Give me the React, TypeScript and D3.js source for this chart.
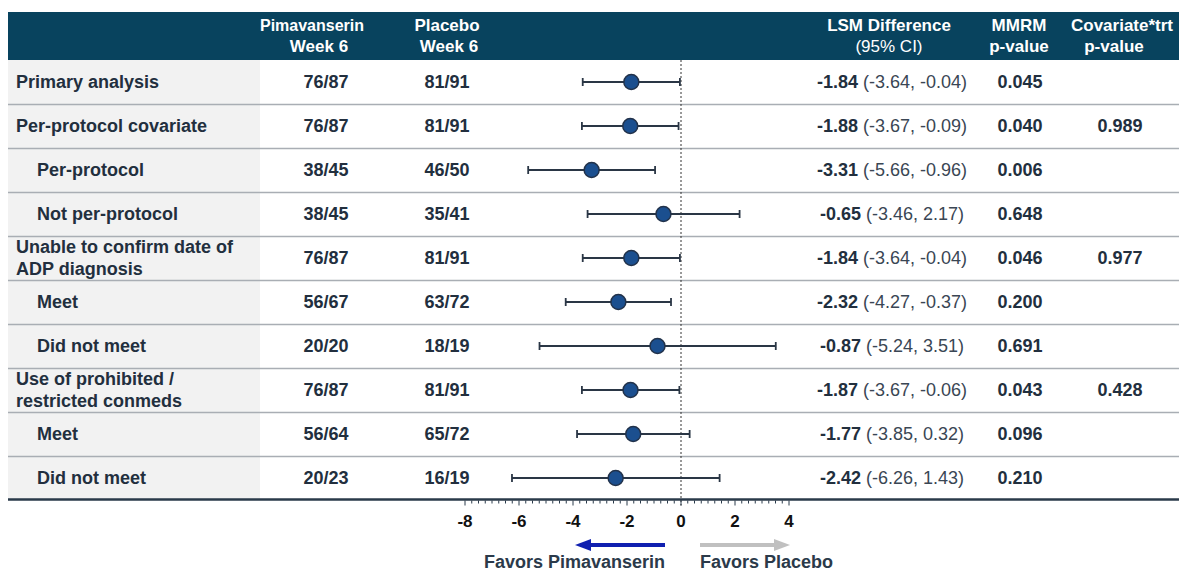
import React from "react";
import * as d3 from "d3";

const labels = [
  ["Primary analysis"],
  ["Per-protocol covariate"],
  ["Per-protocol"],
  ["Not per-protocol"],
  ["Unable to confirm date of", "ADP diagnosis"],
  ["Meet"],
  ["Did not meet"],
  ["Use of prohibited /", "restricted conmeds"],
  ["Meet"],
  ["Did not meet"],
];
const indented = [false, false, true, true, false, true, true, false, true, true];
const pimaN = ["76/87", "76/87", "38/45", "38/45", "76/87", "56/67", "20/20", "76/87", "56/64", "20/23"];
const placeboN = ["81/91", "81/91", "46/50", "35/41", "81/91", "63/72", "18/19", "81/91", "65/72", "16/19"];
const lsm = [-1.84, -1.88, -3.31, -0.65, -1.84, -2.32, -0.87, -1.87, -1.77, -2.42];
const ciLow = [-3.64, -3.67, -5.66, -3.46, -3.64, -4.27, -5.24, -3.67, -3.85, -6.26];
const ciHigh = [-0.04, -0.09, -0.96, 2.17, -0.04, -0.37, 3.51, -0.06, 0.32, 1.43];
const mmrmP = ["0.045", "0.040", "0.006", "0.648", "0.046", "0.200", "0.691", "0.043", "0.096", "0.210"];
const covP = ["", "0.989", "", "", "0.977", "", "", "0.428", "", ""];
const majorTicks = [-8, -6, -4, -2, 0, 2, 4];

const FONT = "'Liberation Sans', Arial, sans-serif";
const DARK = "#222f3e";

export default function App() {
  const left = 8;
  const right = 1179;
  const headerTop = 12;
  const headerBottom = 60;
  const rowH = 44;
  const grayRight = 260;
  const axisY = 499.5;
  const x = d3.scaleLinear().domain([-8, 4]).range([465, 789]);
  const y = (i: number) => headerBottom + rowH * i + rowH / 2;
  const minorTicks = d3.range(-8, 4.001, 0.25);
  const fmt = (v: number) => v.toFixed(2);
  const FS = 18;

  return (
    <svg
      width={1179}
      height={571}
      style={{ position: "absolute", left: 0, top: 0, display: "block" }}
      fontFamily={FONT}
    >
      <rect x={0} y={0} width={1179} height={571} fill="#fff" />
      {/* header */}
      <rect x={left} y={headerTop} width={right - left} height={headerBottom - headerTop} fill="#08435e" />
      <g fill="#fff" fontWeight="bold" fontSize={17} textAnchor="middle">
        <text x={312} y={31} fontSize={16}>Pimavanserin</text>
        <text x={319} y={52}>Week 6</text>
        <text x={447} y={31}>Placebo</text>
        <text x={449} y={52}>Week 6</text>
        <text x={889} y={31}>LSM Difference</text>
        <text x={889} y={52} fontWeight="normal">(95% CI)</text>
        <text x={1019} y={31}>MMRM</text>
        <text x={1019} y={52}>p-value</text>
        <text x={1122} y={31}>Covariate*trt</text>
        <text x={1114} y={52}>p-value</text>
      </g>
      {/* gray label column */}
      <rect x={left} y={headerBottom} width={grayRight - left} height={axisY - headerBottom} fill="#f2f2f2" />
      {/* row separators */}
      {labels.slice(1).map((_, i) => (
        <line
          key={"sep" + i}
          x1={left}
          x2={right}
          y1={headerBottom + rowH * (i + 1) + 0.5}
          y2={headerBottom + rowH * (i + 1) + 0.5}
          stroke="#a9aeb4"
          strokeWidth={1.5}
        />
      ))}
      {/* zero line */}
      <line x1={x(0)} x2={x(0)} y1={headerBottom} y2={axisY + 6} stroke="#333" strokeWidth={1} strokeDasharray="2,2" />
      {/* rows */}
      {labels.map((lab, i) => {
        const cy = y(i);
        const lx = indented[i] ? 37 : 16;
        return (
          <g key={"row" + i} fill={DARK}>
            {lab.length === 1 ? (
              <text x={lx} y={cy + 6} fontSize={FS} fontWeight="bold">{lab[0]}</text>
            ) : (
              <>
                <text x={lx} y={cy - 5} fontSize={FS} fontWeight="bold">{lab[0]}</text>
                <text x={lx} y={cy + 17} fontSize={FS} fontWeight="bold">{lab[1]}</text>
              </>
            )}
            <text x={326} y={cy + 6} fontSize={FS} fontWeight="bold" textAnchor="middle">{pimaN[i]}</text>
            <text x={447} y={cy + 6} fontSize={FS} fontWeight="bold" textAnchor="middle">{placeboN[i]}</text>
            <text x={892} y={cy + 6} fontSize={FS} textAnchor="middle">
              <tspan fontWeight="bold">{fmt(lsm[i])}</tspan>
              <tspan fill="#3a4654"> ({fmt(ciLow[i])}, {fmt(ciHigh[i])})</tspan>
            </text>
            <text x={1020} y={cy + 6} fontSize={FS} fontWeight="bold" textAnchor="middle">{mmrmP[i]}</text>
            <text x={1120} y={cy + 6} fontSize={FS} fontWeight="bold" textAnchor="middle">{covP[i]}</text>
            {/* error bar */}
            <line x1={x(ciLow[i])} x2={x(ciHigh[i])} y1={cy} y2={cy} stroke="#2a3645" strokeWidth={1.8} />
            <line x1={x(ciLow[i])} x2={x(ciLow[i])} y1={cy - 4} y2={cy + 4} stroke="#2a3645" strokeWidth={1.8} />
            <line x1={x(ciHigh[i])} x2={x(ciHigh[i])} y1={cy - 4} y2={cy + 4} stroke="#2a3645" strokeWidth={1.8} />
            <circle cx={x(lsm[i])} cy={cy} r={7.5} fill="#1b4f8f" stroke="#22324a" strokeWidth={1.5} />
          </g>
        );
      })}
      {/* axis */}
      <line x1={left} x2={right} y1={axisY} y2={axisY} stroke="#2a3a4a" strokeWidth={2.5} />
      {minorTicks.map((t, i) => {
        const major = Math.abs(t % 2) < 1e-9;
        return (
          <line key={"t" + i} x1={x(t)} x2={x(t)} y1={axisY + 1} y2={axisY + (major ? 6 : 4)} stroke="#2a3a4a" strokeWidth={1} />
        );
      })}
      {majorTicks.map((t) => (
        <text key={"tl" + t} x={x(t)} y={527} fontSize={17} fontWeight="bold" textAnchor="middle" fill="#111">{t}</text>
      ))}
      {/* favors arrows */}
      <line x1={665} x2={586} y1={545} y2={545} stroke="#1020b0" strokeWidth={4} />
      <path d={`M575,545 L591,539 L591,551 Z`} fill="#1020b0" />
      <line x1={700} x2={779} y1={545} y2={545} stroke="#c0c0c0" strokeWidth={4} />
      <path d={`M790,545 L774,539 L774,551 Z`} fill="#c0c0c0" />
      <text x={665} y={568} fontSize={18} fontWeight="bold" textAnchor="end" fill="#2b3a4a">Favors Pimavanserin</text>
      <text x={700} y={568} fontSize={18} fontWeight="bold" fill="#2b3a4a">Favors Placebo</text>
    </svg>
  );
}
